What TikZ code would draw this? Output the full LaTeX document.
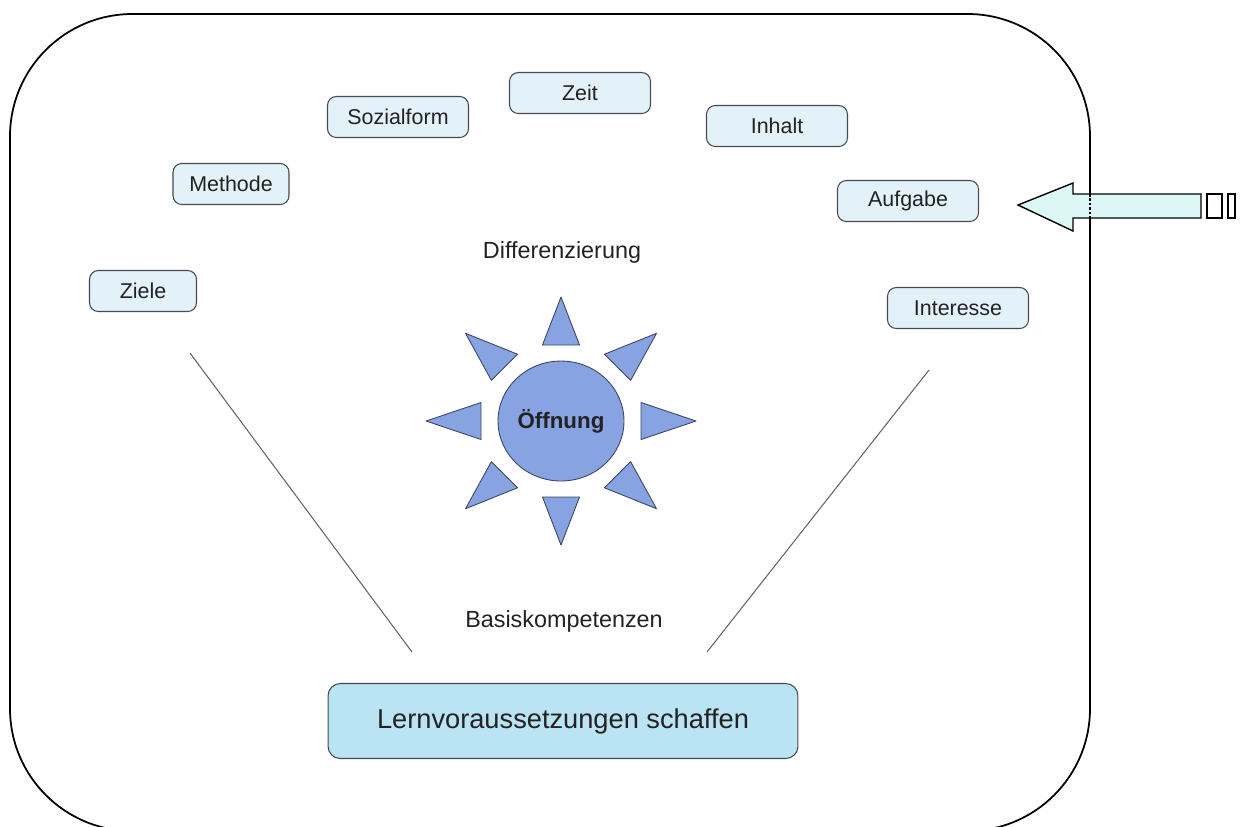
\documentclass[tikz,border=0pt]{standalone}
\usepackage{fontspec}
\setmainfont{Liberation Sans}
\usetikzlibrary{calc,shapes.geometric}
\definecolor{boxfill}{HTML}{E3F1F8}
\definecolor{boxline}{HTML}{454B55}
\definecolor{sunfill}{HTML}{88A3E1}
\definecolor{sunline}{HTML}{3C4663}
\definecolor{basefill}{HTML}{BAE3F3}
\definecolor{arrowfill}{HTML}{DDF6F6}
\definecolor{linegray}{HTML}{60646C}
\definecolor{ink}{HTML}{222222}

\begin{document}
\begin{tikzpicture}[x=0.02cm,y=-0.02cm,
  box/.style={draw=boxline,rounded corners=5pt,fill=boxfill,line width=0.6pt,minimum height=0.82cm,minimum width=2.82cm,inner sep=0pt,text=ink,font=\fontsize{12.2}{14}\selectfont},
  lbl/.style={text=ink,font=\fontsize{13.3}{16}\selectfont},
  ray/.style={draw=sunline,fill=sunfill,line width=0.5pt,line join=round},
  leg/.style={draw=linegray,line width=0.6pt}
]
\clip (0,0) rectangle (1247,826);
% frame
\draw[line width=1pt,rounded corners=2.45cm] (10,14) rectangle (1090,831);

% criteria boxes
\node[box,minimum width=2.14cm] (ziele) at (143,291) {Ziele};
\node[box,minimum width=2.32cm] (methode) at (231,184) {Methode};
\node[box] (sozial) at (398,117) {Sozialform};
\node[box] (zeit) at (580,93) {Zeit};
\node[box] (inhalt) at (777,126) {Inhalt};
\node[box] (aufgabe) at (908,201) {Aufgabe};
\node[box] (interesse) at (958,308) {Interesse};

\node[lbl] (diff) at (562,252) {Differenzierung};
\node[lbl] (basis) at (564,621) {Basiskompetenzen};

% sun
\node[ellipse,draw=sunline,fill=sunfill,line width=0.5pt,inner sep=0pt,minimum width=2.52cm,minimum height=2.4cm,text=ink,font=\bfseries\fontsize{12.7}{15}\selectfont] (sun) at (561,421) {Öffnung};
\foreach \a in {0,45,...,315} {
  \draw[ray] ($(sun.center)+(\a:135 and 124)$) -- ($(sun.center)+(\a:80 and 76)+(\a+90:18.5)$) -- ($(sun.center)+(\a:80 and 76)+(\a-90:18.5)$) -- cycle;
}

\node[draw=boxline,fill=basefill,rounded corners=7pt,line width=0.6pt,minimum width=9.4cm,minimum height=1.5cm,text=ink,font=\fontsize{15.5}{18}\selectfont] (base) at (563,721) {Lernvoraussetzungen schaffen};

% legs
\coordinate (zl1) at (190,353);
\coordinate (zl2) at (412,652);
\coordinate (zr1) at (929,370);
\coordinate (zr2) at (707,652);
\draw[leg] (zl1) -- (zl2);
\draw[leg] (zr1) -- (zr2);

% block arrow
\draw[fill=arrowfill,line width=0.8pt,line join=miter] (1018,205) -- (1073,183) -- (1073,194) -- (1201,194) -- (1201,218) -- (1073,218) -- (1073,231) -- cycle;
\draw[dash pattern=on 1.5pt off 1pt,line width=0.7pt] (1090,194) -- (1090,218);
\draw[line width=0.8pt] (1207,194) rectangle (1222,218);
\draw[line width=0.8pt] (1228,194) rectangle (1235,218);
\end{tikzpicture}
\end{document}
